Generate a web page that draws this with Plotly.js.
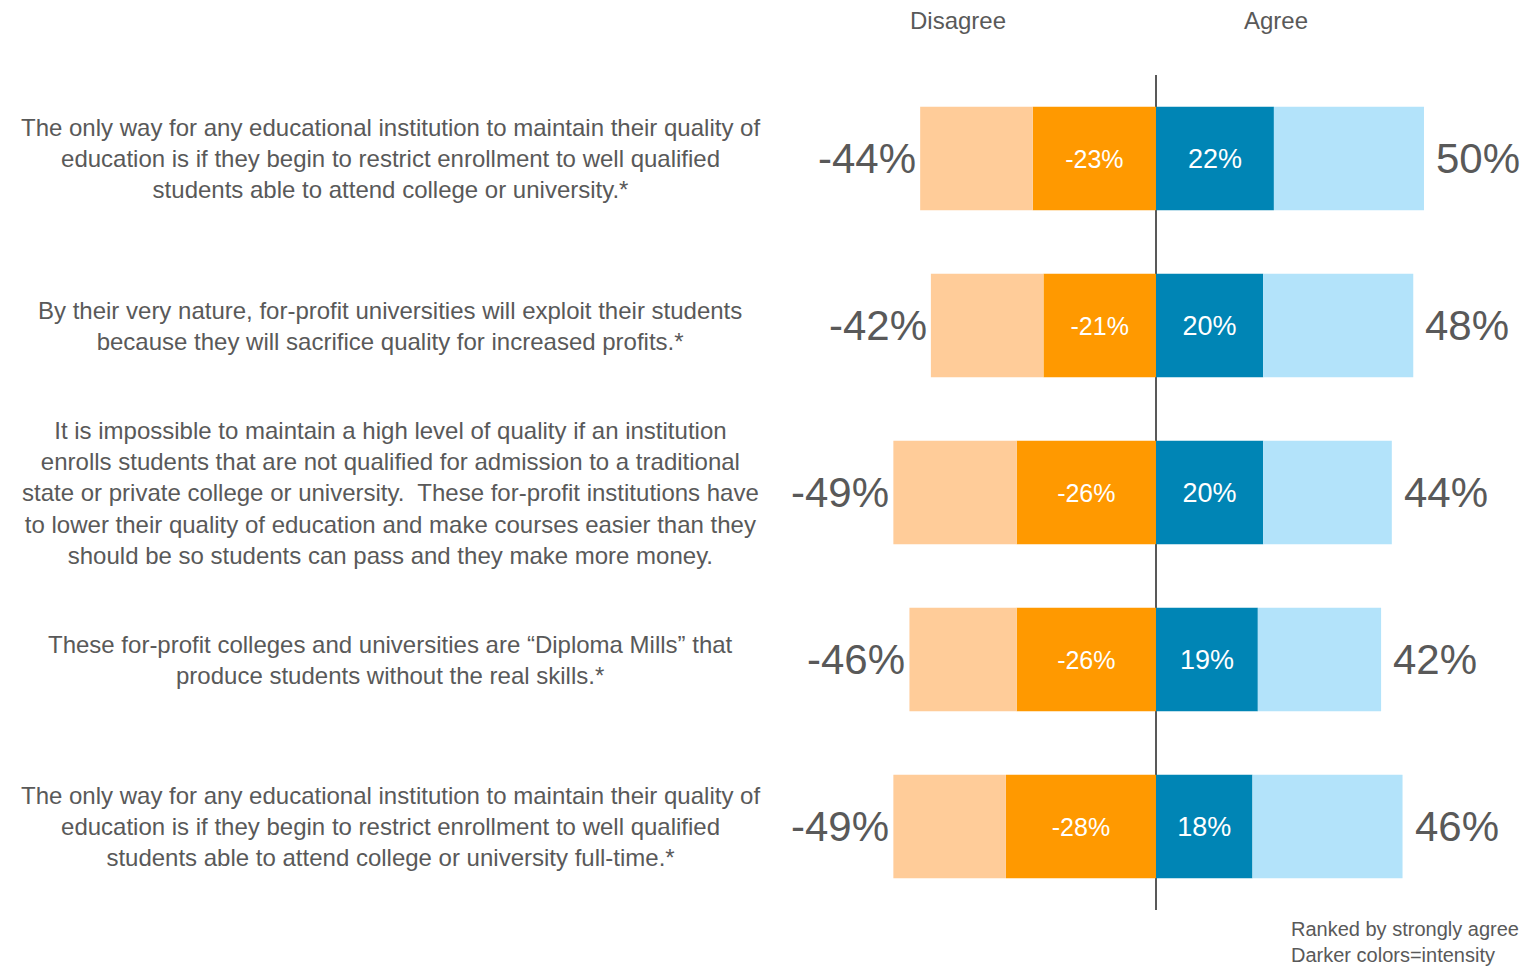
<!DOCTYPE html>
<html>
<head>
<meta charset="utf-8">
<script src="https://cdn.plot.ly/plotly-3.0.1.min.js"></script>
<style>html,body{margin:0;padding:0;background:#fff;}#chart{width:1535px;height:968px;}</style>
</head>
<body>
<div id="chart"></div>
<script>
const questions = [
  "The only way for any educational institution to maintain their quality of<br>education is if they begin to restrict enrollment to well qualified<br>students able to attend college or university.*",
  "By their very nature, for-profit universities will exploit their students<br>because they will sacrifice quality for increased profits.*",
  "It is impossible to maintain a high level of quality if an institution<br>enrolls students that are not qualified for admission to a traditional<br>state or private college or university.  These for-profit institutions have<br>to lower their quality of education and make courses easier than they<br>should be so students can pass and they make more money.",
  "These for-profit colleges and universities are \u201cDiploma Mills\u201d that<br>produce students without the real skills.*",
  "The only way for any educational institution to maintain their quality of<br>education is if they begin to restrict enrollment to well qualified<br>students able to attend college or university full-time.*"
];
const strongDisagree = [-23, -21, -26, -26, -28];
const totalDisagree  = [-44, -42, -49, -46, -49];
const strongAgree    = [22, 20, 20, 19, 18];
const totalAgree     = [50, 48, 44, 42, 46];
const somewhatDisagree = totalDisagree.map((t, i) => t - strongDisagree[i]);
const somewhatAgree    = totalAgree.map((t, i) => t - strongAgree[i]);

const rows = questions.map((q, i) => i);
const pct = v => v + "%";
const gray = "#595959";
const fontFam = "Liberation Sans, Arial, sans-serif";

const common = {type: "bar", orientation: "h", y: rows, width: 0.62, hoverinfo: "skip",
  textposition: "inside", insidetextanchor: "middle", constraintext: "none"};

const traces = [
  Object.assign({}, common, {name: "Strongly disagree", x: strongDisagree, text: strongDisagree.map(pct),
    textfont: {color: "#ffffff", size: 25, family: fontFam}, marker: {color: "#FF9900"}}),
  Object.assign({}, common, {name: "Somewhat disagree", x: somewhatDisagree, text: somewhatDisagree.map(() => ""),
    textfont: {color: "#ffffff", size: 25, family: fontFam}, marker: {color: "#FFCC99"}}),
  Object.assign({}, common, {name: "Strongly agree", x: strongAgree, text: strongAgree.map(pct),
    textfont: {color: "#ffffff", size: 27, family: fontFam}, marker: {color: "#0085B5"}}),
  Object.assign({}, common, {name: "Somewhat agree", x: somewhatAgree, text: somewhatAgree.map(() => ""),
    textfont: {color: "#ffffff", size: 27, family: fontFam}, marker: {color: "#B3E3FA"}})
];

const annotations = [];
questions.forEach((q, i) => {
  annotations.push({xref: "paper", yref: "y", x: -0.52, y: i, text: q, showarrow: false,
    xanchor: "center", yanchor: "middle", align: "center",
    font: {size: 24, color: gray, family: fontFam}});
  annotations.push({xref: "x", yref: "y", x: totalDisagree[i], y: i, text: pct(totalDisagree[i]),
    showarrow: false, xanchor: "right", xshift: -2, font: {size: 42, color: gray, family: fontFam}});
  annotations.push({xref: "x", yref: "y", x: totalAgree[i], y: i, text: pct(totalAgree[i]),
    showarrow: false, xanchor: "left", xshift: 10, font: {size: 42, color: gray, family: fontFam}});
});
annotations.push({xref: "x", yref: "paper", x: -36.9, y: 1, yshift: 55, text: "Disagree", showarrow: false,
  xanchor: "center", yanchor: "middle", font: {size: 24, color: gray, family: fontFam}});
annotations.push({xref: "x", yref: "paper", x: 22.4, y: 1, yshift: 55, text: "Agree", showarrow: false,
  xanchor: "center", yanchor: "middle", font: {size: 24, color: gray, family: fontFam}});
annotations.push({xref: "paper", yref: "paper", x: 0.679, y: 0, yshift: -32, text: "Ranked by strongly agree<br>Darker colors=intensity",
  showarrow: false, xanchor: "left", yanchor: "middle", align: "left", font: {size: 20, color: gray, family: fontFam}});

const layout = {
  width: 1535, height: 968,
  margin: {l: 780, r: 5, t: 75, b: 58},
  barmode: "relative",
  showlegend: false,
  paper_bgcolor: "#ffffff", plot_bgcolor: "#ffffff",
  xaxis: {range: [-70.15, 69.78], showticklabels: false, showgrid: false, zeroline: true,
    zerolinecolor: gray, zerolinewidth: 2, layer: "above traces", fixedrange: true},
  yaxis: {range: [4.5, -0.5], showticklabels: false, showgrid: false, zeroline: false, fixedrange: true},
  annotations: annotations,
  font: {family: fontFam, color: gray}
};

Plotly.newPlot("chart", traces, layout, {displayModeBar: false, staticPlot: true});
</script>
</body>
</html>
